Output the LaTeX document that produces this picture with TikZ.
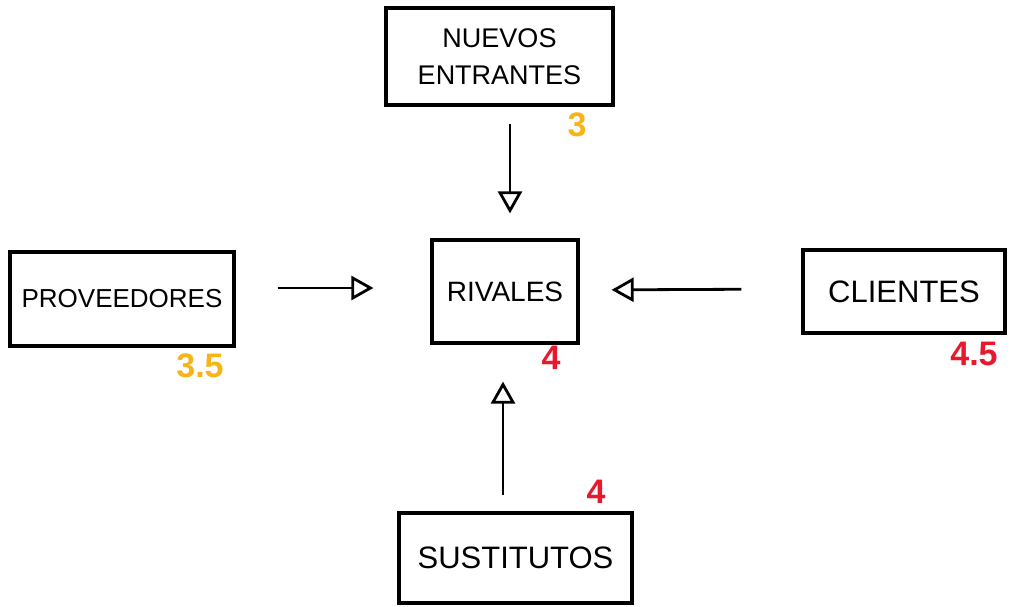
\documentclass[tikz,border=0pt]{standalone}
\usepackage{fontspec}
\setmainfont{Liberation Sans}
\usetikzlibrary{arrows.meta}
\definecolor{scoreorange}{HTML}{F8B416}
\definecolor{scorered}{HTML}{E8192C}
\begin{document}
\begin{tikzpicture}[x=1pt,y=1pt,
  box/.style={draw=black,line width=3.2pt,fill=white,inner sep=0pt,align=center},
  arr/.style={draw=black,line width=2.8pt,-{Triangle[open,length=22pt,width=24pt,line width=2.8pt]}},
  score/.style={font=\fontsize{34}{36}\selectfont\bfseries},
]
\useasboundingbox (0,0) rectangle (1010,-607);
\fill[white] (0,0) rectangle (1010,-607);
\node[box,minimum width=227pt,minimum height=97pt,font=\fontsize{27}{37}\selectfont] (ne) at (499.5,-56.5) {NUEVOS\\ENTRANTES};
\node[box,minimum width=224pt,minimum height=94pt,font=\fontsize{26}{30}\selectfont] (pr) at (122,-299) {PROVEEDORES};
\node[box,minimum width=146pt,minimum height=103pt,font=\fontsize{28}{30}\selectfont] (ri) at (505,-291.5) {RIVALES};
\node[box,minimum width=202pt,minimum height=83pt,font=\fontsize{31}{33}\selectfont] (cl) at (904,-291.5) {CLIENTES};
\node[box,minimum width=233pt,minimum height=90pt,font=\fontsize{31}{33}\selectfont] (su) at (515.5,-558) {SUSTITUTOS};

\draw[arr,shorten <=17pt,shorten >=25pt] ([xshift=10.5pt]ne.south) -- ([xshift=5pt]ri.north);
\draw[arr,shorten <=42pt,shorten >=57pt] ([yshift=11pt]pr.east) -- ([yshift=3.5pt]ri.west);
\draw[arr,shorten <=60pt,shorten >=32pt] ([yshift=2.5pt]cl.west) -- ([yshift=1.5pt]ri.east);
\draw[arr,shorten <=16pt,shorten >=37pt] ([xshift=-12.5pt]su.north) -- ([xshift=-2pt]ri.south);

\node[score,text=scoreorange] (s1) at (577,-125) {3};
\node[score,text=scoreorange] (s2) at (200,-366) {3.5};
\node[score,text=scorered] (s3) at (551,-358) {4};
\node[score,text=scorered] (s4) at (974,-354) {4.5};
\node[score,text=scorered] (s5) at (596,-492) {4};
\end{tikzpicture}
\end{document}
